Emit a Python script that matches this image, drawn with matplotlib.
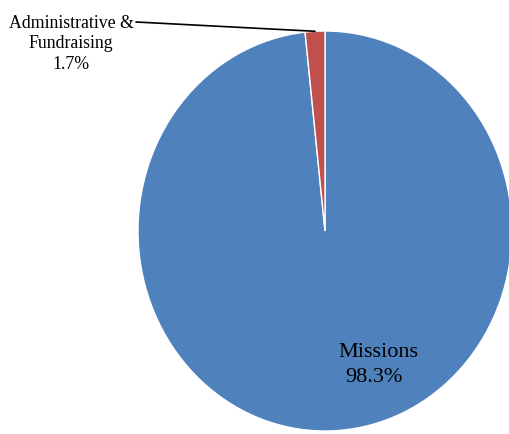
import numpy as np
import matplotlib
matplotlib.use("Agg")
from matplotlib import pyplot as plt

# categories and shares (%)
labels = ["Missions", "Administrative &\nFundraising"]
values = [98.3, 1.7]
colors = ["#4F81BD", "#C0504D"]

plt.rcParams['font.family'] = ['Liberation Serif', 'DejaVu Serif']

W, H = 510, 434
fig = plt.figure(figsize=(W / 100, H / 100), dpi=100)

# pie box in pixels (centre, radii) - slightly elliptical like the original
cx, cy, rx, ry = 325, 231, 187, 200
ax = fig.add_axes([(cx - rx) / W, (H - cy - ry) / H, 2 * rx / W, 2 * ry / H])

wedges, _ = ax.pie(values, colors=colors, startangle=90, counterclock=False,
                   wedgeprops={'edgecolor': 'white', 'linewidth': 1.0})
ax.set_xlim(-1, 1)
ax.set_ylim(-1, 1)
ax.set_aspect('auto')
ax.axis('off')

# Missions label inside the big slice
fig.text(378 / W, 1 - 357 / H, labels[0], ha='center', va='baseline', fontsize=16)
fig.text(374 / W, 1 - 382 / H, "%.1f%%" % values[0], ha='center', va='baseline', fontsize=16)

# small slice label with leader line
w = wedges[1]
mid = np.deg2rad((w.theta1 + w.theta2) / 2)
fig.text(71 / W, 1 - 44 / H, labels[1] + "\n%.1f%%" % values[1],
         ha='center', va='center', fontsize=12.8, linespacing=1.3)
ax.annotate("", xy=(np.cos(mid), np.sin(mid)), xycoords='data',
            xytext=(136 / W, 1 - 22 / H), textcoords='figure fraction',
            arrowprops={'arrowstyle': '-', 'color': 'black', 'lw': 1.2,
                        'shrinkA': 0, 'shrinkB': 0},
            annotation_clip=False)

fig.savefig("out.png", dpi=100)
